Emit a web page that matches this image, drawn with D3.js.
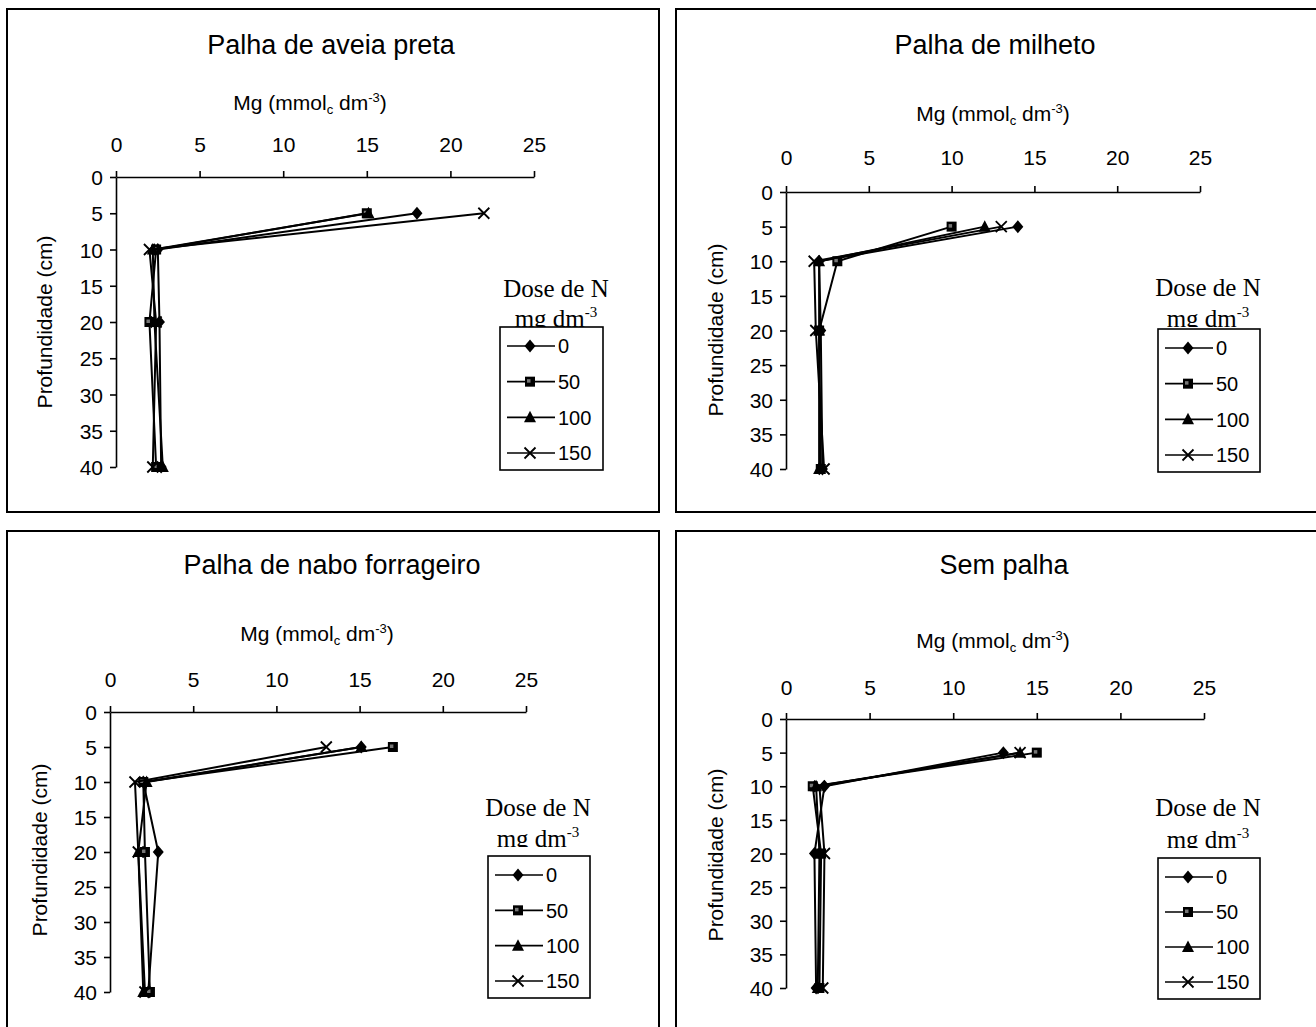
<!DOCTYPE html>
<html>
<head>
<meta charset="utf-8">
<script src="https://cdn.jsdelivr.net/npm/d3@7"></script>
<style>
 body { margin: 0; background: #fff; }
 svg { display: block; }
</style>
</head>
<body>
<div id="chart"></div>
<script>
const depths = [5, 10, 20, 40];
const doses = ["0", "50", "100", "150"];
const xTicks = [0, 5, 10, 15, 20, 25];
const yTicks = [0, 5, 10, 15, 20, 25, 30, 35, 40];
const titles = ["Palha de aveia preta", "Palha de milheto", "Palha de nabo forrageiro", "Sem palha"];

// Mg per dose (rows: 0, 50, 100, 150) at each depth (cols: 5, 10, 20, 40 cm)
const aveiaPreta = [
 [18, 2.5, 2.6, 2.7],
 [15, 2.4, 2.0, 2.4],
 [15.1, 2.2, 2.3, 2.8],
 [22, 2.0, 2.4, 2.2],
];
const milheto = [
 [14, 2.0, 2.1, 2.2],
 [10, 3.1, 2.0, 2.1],
 [12, 2.0, 2.0, 2.0],
 [13, 1.7, 1.8, 2.3],
];
const naboForrageiro = [
 [15.1, 2.0, 2.9, 2.3],
 [17, 2.0, 2.1, 2.4],
 [15.1, 2.2, 1.7, 2.0],
 [13, 1.5, 1.7, 2.1],
];
const semPalha = [
 [13, 2.3, 1.7, 1.8],
 [15, 1.6, 2.1, 2.0],
 [14, 1.8, 2.0, 1.9],
 [14, 2.0, 2.3, 2.2],
];

const sans = "'Liberation Sans', Arial, sans-serif";
const serif = "'Liberation Serif', 'Times New Roman', serif";

const panels = [
 { title: titles[0], data: aveiaPreta, frame: [7, 9, 652, 503], xr: [116, 534], yr: [177, 467],
  titlePos: [331, 54], axisTitlePos: [310, 110], tickBase: 152, yTitlePos: [45, 322],
  legend: [500, 327, 103, 143], legendTitle: [556, 297, 327] },
 { title: titles[1], data: milheto, frame: [676, 9, 660, 503], xr: [786, 1200], yr: [192, 469],
  titlePos: [995, 54], axisTitlePos: [993, 121], tickBase: 165, yTitlePos: [716, 330],
  legend: [1158, 329, 102, 143], legendTitle: [1208, 296, 327] },
 { title: titles[2], data: naboForrageiro, frame: [7, 531, 652, 520], xr: [110, 526], yr: [712, 992],
  titlePos: [332, 574], axisTitlePos: [317, 641], tickBase: 687, yTitlePos: [40, 850],
  legend: [488, 856, 102, 142], legendTitle: [538, 816, 847] },
 { title: titles[3], data: semPalha, frame: [676, 531, 660, 520], xr: [786, 1204], yr: [719, 988],
  titlePos: [1004, 574], axisTitlePos: [993, 648], tickBase: 695, yTitlePos: [716, 855],
  legend: [1158, 858, 102, 141], legendTitle: [1208, 816, 848] },
];

const markers = [
 (g) => g.append("path").attr("d", "M0,-6.5L5.5,0L0,6.5L-5.5,0Z").attr("fill", "#000"),
 (g) => {
  g.append("rect").attr("x", -5).attr("y", -5).attr("width", 10).attr("height", 10).attr("fill", "#000");
  g.append("rect").attr("x", -3).attr("y", -2.5).attr("width", 3.5).attr("height", 3.5).attr("fill", "#777");
 },
 (g) => g.append("path").attr("d", "M0,-6.5L6,5L-6,5Z").attr("fill", "#000"),
 (g) => g.append("path").attr("d", "M-5.5,-5.5L5.5,5.5M5.5,-5.5L-5.5,5.5").attr("stroke", "#000").attr("stroke-width", 1.8).attr("fill", "none"),
];

const svg = d3
 .select("#chart")
 .append("svg")
 .attr("width", 1316)
 .attr("height", 1027);

const addUnit = (text, small) => {
 // "mmol" + subscript c + " dm" + superscript -3 + ")"
 text.append("tspan").text("Mg (mmol");
 text.append("tspan").text("c").attr("font-size", small).attr("dy", 4);
 text.append("tspan").text(" dm").attr("dy", -4);
 text.append("tspan").text("-3").attr("font-size", small).attr("dy", -8);
 text.append("tspan").text(")").attr("dy", 8);
};

panels.forEach((p, pi) => {
 const g = svg.append("g");
 const [fx, fy, fw, fh] = p.frame;

 g.append("rect")
  .attr("x", fx).attr("y", fy).attr("width", fw).attr("height", fh)
  .attr("fill", "#fff").attr("stroke", "#000").attr("stroke-width", 2);

 g.append("text")
  .attr("x", p.titlePos[0]).attr("y", p.titlePos[1])
  .attr("text-anchor", "middle")
  .style("font-family", sans).style("font-size", "27px")
  .text(p.title);

 const at = g.append("text")
  .attr("x", p.axisTitlePos[0]).attr("y", p.axisTitlePos[1])
  .attr("text-anchor", "middle")
  .style("font-family", sans).style("font-size", "21px");
 addUnit(at, "13px");

 g.append("text")
  .attr("transform", `translate(${p.yTitlePos[0]},${p.yTitlePos[1]}) rotate(-90)`)
  .attr("text-anchor", "middle")
  .attr("dy", "0.35em")
  .style("font-family", sans).style("font-size", "21px")
  .text("Profundidade (cm)");

 const x = d3.scaleLinear().domain([0, 25]).range(p.xr);
 const y = d3.scaleLinear().domain([0, 40]).range(p.yr);

 const xAxis = g.append("g")
  .attr("transform", `translate(0,${p.yr[0]})`)
  .call(d3.axisTop(x).tickValues(xTicks).tickSize(6).tickSizeOuter(0).tickPadding(p.yr[0] - p.tickBase - 6));
 const yAxis = g.append("g")
  .attr("transform", `translate(${p.xr[0]},0)`)
  .call(d3.axisLeft(y).tickValues(yTicks).tickSize(6).tickSizeOuter(0).tickPadding(7));

 [xAxis, yAxis].forEach((a) => {
  a.selectAll("path, line").attr("stroke", "#000").attr("stroke-width", 1.6);
  a.selectAll("text").attr("fill", "#000").style("font-family", sans).style("font-size", "21px");
 });
 yAxis.selectAll("text").attr("dy", "0.36em");

 const line = d3.line().x((d) => x(d[0])).y((d) => y(d[1]));

 p.data.forEach((vals, i) => {
  const pts = vals.map((v, j) => [v, depths[j]]);
  g.append("path")
   .attr("d", line(pts))
   .attr("fill", "none")
   .attr("stroke", "#000")
   .attr("stroke-width", 2);
  pts.forEach((d) => {
   const m = g.append("g").attr("transform", `translate(${x(d[0])},${y(d[1])})`);
   markers[i](m);
  });
 });

 // legend
 const [lx, ly, lw, lh] = p.legend;
 const [tcx, tBase, clipY] = p.legendTitle;
 const clipId = `lt${pi}`;
 g.append("clipPath").attr("id", clipId)
  .append("rect").attr("x", tcx - 80).attr("y", tBase - 40).attr("width", 160).attr("height", clipY - tBase + 40);

 const lt = g.append("g").attr("clip-path", `url(#${clipId})`)
  .style("font-family", serif).style("font-size", "25px");
 lt.append("text").attr("x", tcx).attr("y", tBase).attr("text-anchor", "middle").text("Dose de N");
 const mg = lt.append("text").attr("x", tcx).attr("y", clipY).attr("text-anchor", "middle");
 mg.append("tspan").text("mg dm");
 mg.append("tspan").text("-3").attr("font-size", "15px").attr("dy", -10);

 g.append("rect")
  .attr("x", lx).attr("y", ly).attr("width", lw).attr("height", lh)
  .attr("fill", "#fff").attr("stroke", "#000").attr("stroke-width", 1.6);

 const step = (lh - 36) / 3;
 doses.forEach((dose, i) => {
  const ey = ly + 19 + i * step;
  g.append("line")
   .attr("x1", lx + 7).attr("x2", lx + 55).attr("y1", ey).attr("y2", ey)
   .attr("stroke", "#000").attr("stroke-width", 1.6);
  markers[i](g.append("g").attr("transform", `translate(${lx + 30},${ey})`));
  g.append("text")
   .attr("x", lx + 58).attr("y", ey).attr("dy", "0.36em")
   .style("font-family", sans).style("font-size", "20px")
   .text(dose);
 });
});
</script>
</body>
</html>
